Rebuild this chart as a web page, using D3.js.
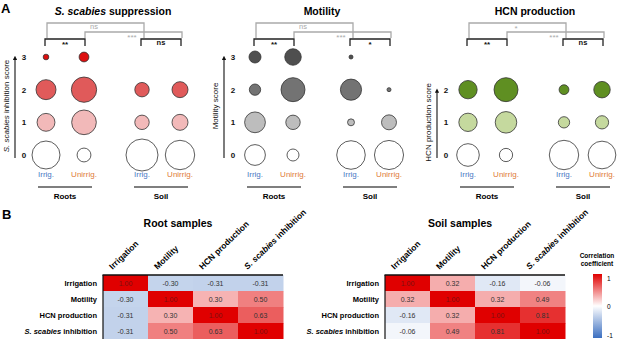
<!DOCTYPE html>
<html>
<head>
<meta charset="utf-8">
<script src="https://cdn.jsdelivr.net/npm/d3@7"></script>
<style>
  body { margin: 0; background: #fff; }
  svg { display: block; font-family: "Liberation Sans", Arial, sans-serif; }
</style>
</head>
<body>
<svg id="chart" width="617" height="339"></svg>
<script>
const groups = ['Roots', 'Soil']
const treatments = ['Irrig.', 'Unirrig.']

// bubble sizes per score (0..max); order: Roots Irrig, Roots Unirrig, Soil Irrig, Soil Unirrig
const suppressionCounts = [[49, 20, 25, 2], [12, 38, 40, 6], [64, 13, 13, 0], [54, 16, 16, 0]]
const motilityCounts = [[27, 27, 8, 9], [9, 13, 36, 17], [51, 3, 28, 1], [53, 14, 1, 0]]
const hcnCounts = [[32, 21, 21], [11, 29, 36], [54, 8, 6], [48, 11, 17]]

// significance: [roots irrig vs soil irrig, roots unirrig vs soil unirrig, roots, soil]
const suppressionStats = ['ns', '***', '**', 'ns']
const motilityStats = ['ns', '***', '**', '*']
const hcnStats = ['*', '***', '**', 'ns']

const variables = ['Irrigation', 'Motility', 'HCN production', 'S. scabies inhibition']
const rootCorr = [
    [1.00, -0.30, -0.31, -0.31],
    [-0.30, 1.00, 0.30, 0.50],
    [-0.31, 0.30, 1.00, 0.63],
    [-0.31, 0.50, 0.63, 1.00]
]
const soilCorr = [
    [1.00, 0.32, -0.16, -0.06],
    [0.32, 1.00, 0.32, 0.49],
    [-0.16, 0.32, 1.00, 0.81],
    [-0.06, 0.49, 0.81, 1.00]
]
const colorTicks = [1, 0, -1]

const IRRIG_COLOR = '#4a78c4'
const UNIRRIG_COLOR = '#e07b39'
const svg = d3.select('#chart')

svg.append('defs').append('marker')
    .attr('id', 'arrow')
    .attr('viewBox', '0 0 6 6')
    .attr('refX', 3).attr('refY', 3)
    .attr('markerWidth', 4).attr('markerHeight', 4)
    .attr('orient', 'auto')
    .append('path').attr('d', 'M0,0 L6,3 L0,6 Z').attr('fill', '#111')

// writes text where "S. scabies" is set in italics
function richText(sel, str) {
    const parts = str.split(/(S\. scabies)/).filter(p => p.length)
    parts.forEach(p => {
        sel.append('tspan')
            .attr('font-style', p === 'S. scabies' ? 'italic' : null)
            .text(p)
    })
    return sel
}

function drawBubbles(cfg) {
    const g = svg.append('g')
    const maxScore = cfg.counts[0].length - 1
    const x = d3.scalePoint().domain(groups).range([cfg.x0 + 19, cfg.x0 + 115])
    const dx = d3.scalePoint().domain(treatments).range([-19, 19])
    const y = d3.scaleLinear().domain([0, 3]).range([155, 57])
    const r = d3.scaleSqrt().domain([0, 64]).range([0, 16])

    const cells = []
    groups.forEach((grp, gi) => treatments.forEach((t, ti) => {
        cfg.counts[gi * 2 + ti].forEach((c, s) => {
            if (c > 0) cells.push({grp, t, s, c})
        })
    }))

    g.selectAll('circle.bubble')
        .data(cells)
        .enter().append('circle')
        .attr('class', 'bubble')
        .attr('cx', d => x(d.grp) + dx(d.t))
        .attr('cy', d => y(d.s))
        .attr('r', d => r(d.c))
        .attr('fill', d => cfg.colors[d.s])
        .attr('stroke', '#333')
        .attr('stroke-width', 0.8)

    // title
    richText(g.append('text')
        .attr('x', cfg.x0 + 67).attr('y', 15)
        .attr('text-anchor', 'middle')
        .attr('font-size', 10.5).attr('font-weight', 'bold'), cfg.title)

    // y axis: score ticks + arrow
    g.selectAll('text.tick')
        .data(d3.range(maxScore + 1))
        .enter().append('text')
        .attr('class', 'tick')
        .attr('x', cfg.x0 - 22).attr('y', d => y(d) + 3)
        .attr('text-anchor', 'middle')
        .attr('font-size', 8).attr('font-weight', 'bold')
        .attr('fill', '#111')
        .text(d => d)

    g.append('line')
        .attr('x1', cfg.x0 - 31).attr('x2', cfg.x0 - 31)
        .attr('y1', y(0) + 3).attr('y2', y(maxScore) + 1)
        .attr('stroke', '#111').attr('stroke-width', 1.1)
        .attr('marker-end', 'url(#arrow)')

    const midY = (y(0) + y(maxScore)) / 2
    richText(g.append('text')
        .attr('transform', `translate(${cfg.x0 - 37},${midY}) rotate(-90)`)
        .attr('text-anchor', 'middle')
        .attr('font-size', 8).attr('fill', '#111'), cfg.yLabel)

    // x labels
    groups.forEach(grp => {
        treatments.forEach(t => {
            g.append('text')
                .attr('x', x(grp) + dx(t)).attr('y', 177)
                .attr('text-anchor', 'middle')
                .attr('font-size', 8)
                .attr('fill', t === 'Irrig.' ? IRRIG_COLOR : UNIRRIG_COLOR)
                .text(t)
        })
        g.append('line')
            .attr('x1', x(grp) - 27).attr('x2', x(grp) + 27)
            .attr('y1', 187).attr('y2', 187)
            .attr('stroke', '#555').attr('stroke-width', 1.6)
        g.append('text')
            .attr('x', x(grp)).attr('y', 199)
            .attr('text-anchor', 'middle')
            .attr('font-size', 8).attr('font-weight', 'bold')
            .text(grp)
    })

    // significance brackets
    const c = [x('Roots') + dx('Irrig.'), x('Roots') + dx('Unirrig.'), x('Soil') + dx('Irrig.'), x('Soil') + dx('Unirrig.')]
    const gray = '#aaa'
    g.append('path')
        .attr('d', `M${c[0] + 1},38 V23 H${c[2] + 2} V38`)
        .attr('fill', 'none').attr('stroke', gray).attr('stroke-width', 1.3)
    g.append('path')
        .attr('d', `M${c[1] + 1},38 V32 H${c[3] + 2} V38`)
        .attr('fill', 'none').attr('stroke', gray).attr('stroke-width', 1.3)
    g.append('path')
        .attr('d', `M${c[0] - 1},46 V39 H${c[1] + 1} V46`)
        .attr('fill', 'none').attr('stroke', '#222').attr('stroke-width', 1.3)
    g.append('path')
        .attr('d', `M${c[2] - 1},46 V39 H${c[3] + 1} V46`)
        .attr('fill', 'none').attr('stroke', '#222').attr('stroke-width', 1.3)

    const statPos = [
        {x: (c[0] + c[2]) / 2, y: 30, fill: gray, bold: false},
        {x: (c[1] + c[3]) / 2, y: 39, fill: gray, bold: false},
        {x: (c[0] + c[1]) / 2, y: 46, fill: '#111', bold: true},
        {x: (c[2] + c[3]) / 2, y: 46, fill: '#111', bold: true}
    ]
    cfg.stats.forEach((s, i) => {
        const p = statPos[i]
        g.append('text')
            .attr('x', p.x).attr('y', s === 'ns' ? p.y - 1 : p.y + 1)
            .attr('text-anchor', 'middle')
            .attr('font-size', s === 'ns' ? 7.5 : 8)
            .attr('font-weight', p.bold ? 'bold' : null)
            .attr('fill', p.fill)
            .text(s)
    })
}

drawBubbles({x0: 46, title: 'S. scabies suppression', yLabel: 'S. scabies inhibition score',
    counts: suppressionCounts, colors: ['#ffffff', '#f2b9b9', '#e05a5a', '#dd0f0f'], stats: suppressionStats})
drawBubbles({x0: 255, title: 'Motility', yLabel: 'Motility score',
    counts: motilityCounts, colors: ['#ffffff', '#bdbdbd', '#737373', '#4f4f4f'], stats: motilityStats})
drawBubbles({x0: 468, title: 'HCN production', yLabel: 'HCN production score',
    counts: hcnCounts, colors: ['#ffffff', '#c5d99e', '#5f8f22'], stats: hcnStats})

// panel letters
svg.append('text').attr('x', 1).attr('y', 13)
    .attr('font-size', 13).attr('font-weight', 'bold').text('A')
svg.append('text').attr('x', 2).attr('y', 219)
    .attr('font-size', 13).attr('font-weight', 'bold').text('B')

// heatmaps
const corrColor = d3.scaleLinear().domain([-1, 0, 1]).range(['#3b6fc0', '#ffffff', '#e00000'])

function drawHeat(x0, title, data) {
    const g = svg.append('g')
    const xs = d3.scaleBand().domain(variables).range([x0, x0 + 180])
    const ys = d3.scaleBand().domain(variables).range([275, 339])

    const cells = []
    data.forEach((row, i) => row.forEach((v, j) => cells.push({r: variables[i], c: variables[j], v})))

    g.selectAll('rect')
        .data(cells)
        .enter().append('rect')
        .attr('x', d => xs(d.c)).attr('y', d => ys(d.r))
        .attr('width', xs.bandwidth() + 0.5).attr('height', ys.bandwidth() + 0.5)
        .attr('fill', d => corrColor(d.v))

    g.selectAll('text.val')
        .data(cells)
        .enter().append('text')
        .attr('class', 'val')
        .attr('x', d => xs(d.c) + xs.bandwidth() / 2)
        .attr('y', d => ys(d.r) + ys.bandwidth() / 2 + 2.5)
        .attr('text-anchor', 'middle')
        .attr('font-size', 7)
        .attr('fill', d => d.v === 1 ? '#7a1010' : '#333')
        .text(d => d3.format('.2f')(d.v).replace('−', '-'))

    g.append('line')
        .attr('x1', x0 - 0.5).attr('x2', x0 + 180).attr('y1', 275).attr('y2', 275)
        .attr('stroke', '#111').attr('stroke-width', 1.5)
    g.append('line')
        .attr('x1', x0).attr('x2', x0).attr('y1', 275).attr('y2', 339)
        .attr('stroke', '#111').attr('stroke-width', 1.2)

    variables.forEach(v => {
        richText(g.append('text')
            .attr('x', x0 - 6).attr('y', ys(v) + ys.bandwidth() / 2 + 3)
            .attr('text-anchor', 'end')
            .attr('font-size', 7.5).attr('font-weight', 'bold'), v)
        richText(g.append('text')
            .attr('transform', `translate(${xs(v) + xs.bandwidth() / 2 - 13},270) rotate(-44)`)
            .attr('font-size', 8.5).attr('font-weight', 'bold'), v)
    })

    g.append('text')
        .attr('x', x0 + 75).attr('y', 227)
        .attr('text-anchor', 'middle')
        .attr('font-size', 10.5).attr('font-weight', 'bold')
        .text(title)
}

drawHeat(103, 'Root samples', rootCorr)
drawHeat(385, 'Soil samples', soilCorr)

// colour bar
const grad = svg.select('defs').append('linearGradient')
    .attr('id', 'cbar').attr('x1', 0).attr('y1', 1).attr('x2', 0).attr('y2', 0)
grad.selectAll('stop')
    .data([-1, 0, 1])
    .enter().append('stop')
    .attr('offset', d => (d + 1) / 2)
    .attr('stop-color', d => corrColor(d))

const cy = d3.scaleLinear().domain([-1, 1]).range([338, 274])
svg.append('rect')
    .attr('x', 593).attr('y', cy(1)).attr('width', 9).attr('height', cy(-1) - cy(1))
    .attr('fill', 'url(#cbar)')
svg.selectAll('text.cbtick')
    .data(colorTicks)
    .enter().append('text')
    .attr('class', 'cbtick')
    .attr('x', 607)
    .attr('y', d => Math.min(Math.max(cy(d) + 2.5, 281), 338))
    .attr('font-size', 6.5)
    .text(d => d)
svg.append('text').attr('x', 597).attr('y', 258)
    .attr('text-anchor', 'middle').attr('font-size', 6.5).attr('font-weight', 'bold')
    .text('Correlation')
svg.append('text').attr('x', 597).attr('y', 266)
    .attr('text-anchor', 'middle').attr('font-size', 6.5).attr('font-weight', 'bold')
    .text('coefficient')
</script>
</body>
</html>
